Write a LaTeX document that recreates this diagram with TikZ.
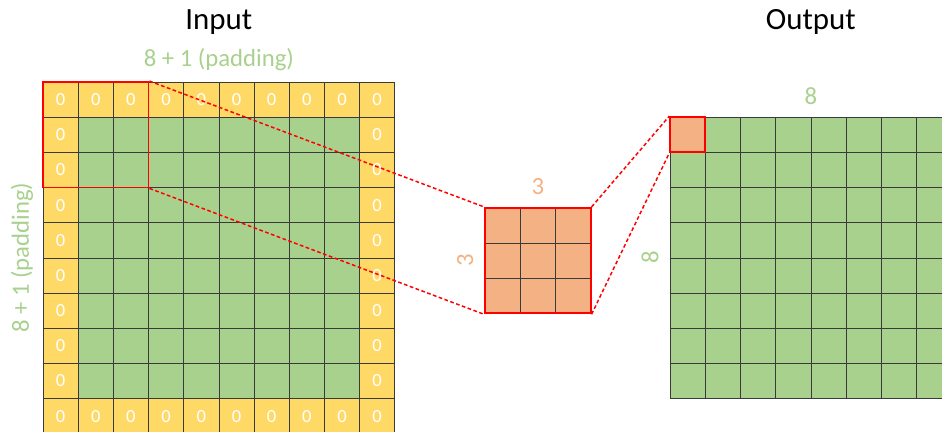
\documentclass[tikz,border=0pt]{standalone}
\usepackage{fontspec}
\setmainfont{Carlito}
\usetikzlibrary{positioning}
\definecolor{padyellow}{HTML}{FFD966}
\definecolor{cellgreen}{HTML}{A9D18E}
\definecolor{kernorange}{HTML}{F4B183}
\definecolor{winred}{HTML}{FF0000}
\definecolor{gridgray}{HTML}{3A3A3A}
\tikzset{
    zero/.style={text=white,font=\fontsize{15}{15}\selectfont},
    window/.style={
        draw=winred,line width=1.5pt,inner sep=0pt,minimum size=#1
    },
    window/.default=3cm,
    link/.style={draw=winred,densely dashed,line width=1.2pt},
    dimlabel/.style={text=#1,font=\fontsize{20}{20}\selectfont},
    title/.style={font=\fontsize{25}{25}\selectfont},
    gridline/.style={draw=gridgray,line width=0.5pt}
}

\begin{document}
\begin{tikzpicture}[x=1cm,y=-1cm]

\clip (-1.223,-2.331) rectangle (25.56,9.95);

% input, padded
\fill[padyellow] (0,0) rectangle (10,10);
\fill[cellgreen] (1,1) rectangle (9,9);
\draw[gridline] (0,0) grid (10,10);
\foreach \k in {0,...,9} {
    \node[zero] (zt-\k) at (\k+.5,.5) {0};
    \node[zero] (zb-\k) at (\k+.5,9.5) {0};
}
\foreach \k in {1,...,8} {
    \node[zero] (zl-\k) at (.5,\k+.5) {0};
    \node[zero] (zr-\k) at (9.5,\k+.5) {0};
}

% kernel
\begin{scope}[shift={(12.57,3.58)}]
\fill[kernorange] (0,0) rectangle (3,3);
\draw[gridline] (0,0) grid (3,3);
\end{scope}

% output
\begin{scope}[shift={(17.83,1)}]
\fill[cellgreen] (0,0) rectangle (8,8);
\draw[gridline] (0,0) grid (8,8);
\end{scope}

\node[window] (win) at (1.5,1.5) {};
\node[window] (kern) at (14.07,5.08) {};
\node[window=1cm,fill=kernorange] (outcell) at (18.33,1.5) {};

\draw[link] (win.north east) -- (kern.north west);
\draw[link] (win.south east) -- (kern.south west);
\draw[link] (kern.north east) -- (outcell.north west);
\draw[link] (kern.south east) -- (outcell.south west);

% labels
\node[title] (intitle) at (5,-1.71) {Input};
\node[dimlabel=cellgreen] (inwidth) at (5,-.63) {8 + 1 (padding)};
\node[dimlabel=cellgreen,rotate=90] (inheight) at (-.6,5) {8 + 1 (padding)};
\node[dimlabel=kernorange] (kwidth) at (14.07,2.97) {3};
\node[dimlabel=kernorange,rotate=90] (kheight) at (12.0,5.06) {3};
\node[title] (outtitle) at (21.83,-1.71) {Output};
\node[dimlabel=cellgreen] (outwidth) at (21.83,.41) {8};
\node[dimlabel=cellgreen,rotate=90] (outheight) at (17.26,4.98) {8};

\end{tikzpicture}
\end{document}
